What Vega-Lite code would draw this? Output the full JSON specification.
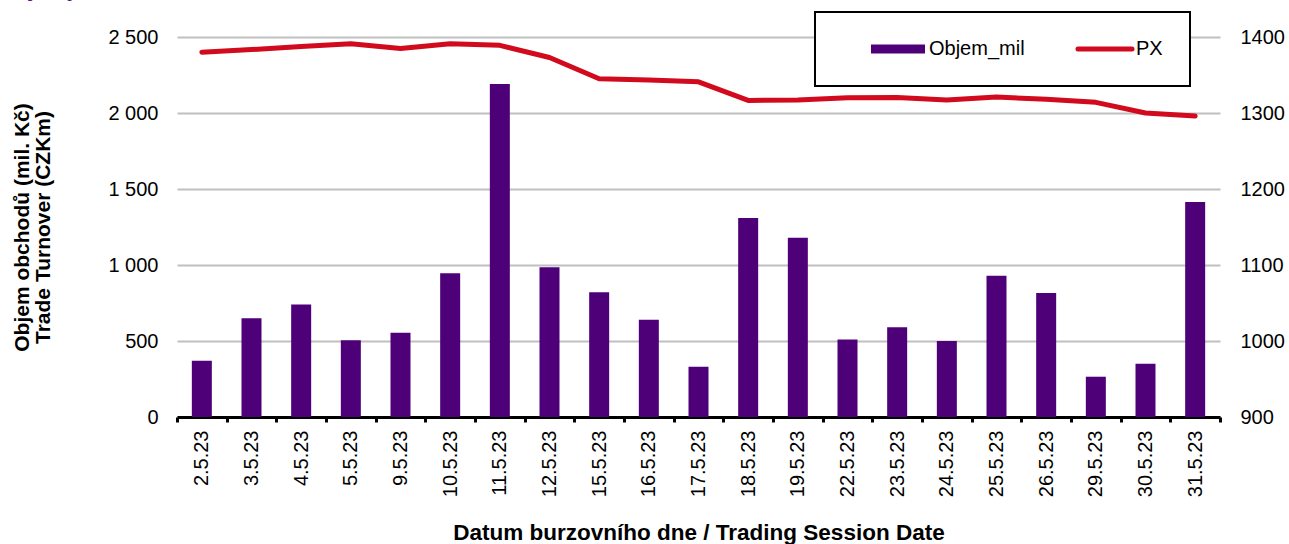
{
  "$schema": "https://vega.github.io/schema/vega-lite/v6.json",
  "width": 1043,
  "height": 380,
  "autosize": {"type": "none"},
  "padding": {"left": 177, "top": 37, "right": 69, "bottom": 127},
  "background": "white",
  "config": {
    "font": "Liberation Sans",
    "view": {"stroke": null},
    "locale": {"number": {"decimal": ",", "thousands": " ", "grouping": [3], "currency": ["", " Kč"]}}
  },
  "title": {
    "text": "Objemy obchodů a index PX",
    "anchor": "start",
    "frame": "group",
    "dx": -179,
    "dy": -10,
    "offset": 0,
    "fontSize": 22,
    "fontWeight": "bold",
    "color": "#5B1396",
    "font": "Liberation Sans"
  },
  "data": {
    "values": [
      {"den": "2.5.23", "objem": 370, "px": 1380},
      {"den": "3.5.23", "objem": 650, "px": 1383.5},
      {"den": "4.5.23", "objem": 740, "px": 1387.5},
      {"den": "5.5.23", "objem": 505, "px": 1391},
      {"den": "9.5.23", "objem": 555, "px": 1385},
      {"den": "10.5.23", "objem": 945, "px": 1391},
      {"den": "11.5.23", "objem": 2190, "px": 1389},
      {"den": "12.5.23", "objem": 985, "px": 1373},
      {"den": "15.5.23", "objem": 820, "px": 1345},
      {"den": "16.5.23", "objem": 640, "px": 1343.5},
      {"den": "17.5.23", "objem": 330, "px": 1341},
      {"den": "18.5.23", "objem": 1310, "px": 1316.5},
      {"den": "19.5.23", "objem": 1180, "px": 1317},
      {"den": "22.5.23", "objem": 510, "px": 1320},
      {"den": "23.5.23", "objem": 590, "px": 1320.5},
      {"den": "24.5.23", "objem": 500, "px": 1317},
      {"den": "25.5.23", "objem": 930, "px": 1321},
      {"den": "26.5.23", "objem": 815, "px": 1318},
      {"den": "29.5.23", "objem": 265, "px": 1314},
      {"den": "30.5.23", "objem": 350, "px": 1300},
      {"den": "31.5.23", "objem": 1415, "px": 1296}
    ]
  },
  "encoding": {
    "x": {
      "field": "den",
      "type": "nominal",
      "sort": null,
      "scale": {"paddingInner": 0, "paddingOuter": 0},
      "axis": {
        "title": "Datum burzovního dne / Trading Session Date",
        "titleFontSize": 22.5,
        "titleFontWeight": "bold",
        "titleColor": "#000000",
        "titlePadding": 25,
        "labelAngle": -90,
        "labelFontSize": 20,
        "labelColor": "#000000",
        "labelPadding": 8,
        "domainColor": "#000000",
        "domainWidth": 3,
        "tickColor": "#000000",
        "tickWidth": 3,
        "tickSize": 5,
        "tickBand": "extent",
        "grid": false
      }
    }
  },
  "layer": [
    {
      "mark": {"type": "bar", "size": 20},
      "encoding": {
        "y": {
          "field": "objem",
          "type": "quantitative",
          "scale": {"domain": [0, 2500]},
          "axis": {
            "orient": "left",
            "title": ["Objem obchodů (mil. Kč)", "Trade Turnover (CZKm)"],
            "titleFontSize": 21,
            "titleFontWeight": "bold",
            "titleColor": "#000000",
            "titlePadding": 54,
            "titleLineHeight": 21,
            "values": [0, 500, 1000, 1500, 2000, 2500],
            "format": ",d",
            "labelFontSize": 20,
            "labelColor": "#000000",
            "labelPadding": 19,
            "domain": false,
            "ticks": false,
            "grid": true,
            "gridColor": "#C0C0C0",
            "gridWidth": 2
          }
        },
        "color": {
          "datum": "Objem_mil",
          "type": "nominal",
          "scale": {"domain": ["Objem_mil", "PX"], "range": ["#4E0078", "#D20A1E"]},
          "legend": {
            "title": null,
            "orient": "none",
            "direction": "horizontal",
            "legendX": 638,
            "legendY": -25,
            "padding": 27,
            "clipHeight": 20,
            "fillColor": "#FFFFFF",
            "strokeColor": "#000000",
            "symbolType": "stroke",
            "symbolSize": 2916,
            "symbolStrokeWidth": 9,
            "symbolOffset": 46,
            "labelOffset": 21,
            "labelFontSize": 20,
            "labelColor": "#000000",
            "columnPadding": 24,
            "encode": {
              "legend": {
                "update": {"strokeWidth": {"value": 2}}
              },
              "symbols": {
                "update": {
                  "stroke": {"signal": "datum.value === 'PX' ? '#D20A1E' : '#4E0078'"},
                  "fill": {"value": "transparent"},
                  "strokeWidth": {"signal": "datum.value === 'PX' ? 5 : 9"},
                  "strokeCap": {"signal": "datum.value === 'PX' ? 'round' : 'butt'"},
                  "opacity": {"value": 1}
                }
              }
            }
          }
        }
      }
    },
    {
      "mark": {"type": "line", "strokeWidth": 5, "strokeCap": "round", "strokeJoin": "round"},
      "encoding": {
        "y": {
          "field": "px",
          "type": "quantitative",
          "scale": {"domain": [900, 1400]},
          "axis": {
            "orient": "right",
            "title": null,
            "values": [900, 1000, 1100, 1200, 1300, 1400],
            "format": "d",
            "labelFontSize": 20,
            "labelColor": "#000000",
            "labelPadding": 20,
            "domain": false,
            "ticks": false,
            "grid": false
          }
        },
        "color": {"datum": "PX", "type": "nominal"}
      }
    }
  ],
  "resolve": {"scale": {"y": "independent"}}
}
